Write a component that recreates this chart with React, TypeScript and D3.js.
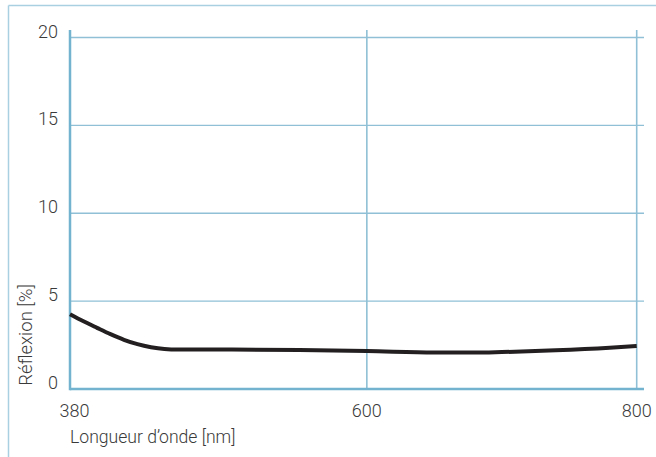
import React from "react";
import * as d3 from "d3";

const wavelengths = [380, 390, 400, 410, 420, 430, 440, 450, 460, 500, 550, 600, 650, 680, 700, 740, 780, 800];
const reflexion = [4.25, 3.85, 3.48, 3.12, 2.8, 2.55, 2.38, 2.28, 2.25, 2.25, 2.22, 2.16, 2.08, 2.07, 2.1, 2.2, 2.35, 2.45];
const xTicks = [380, 600, 800];
const yTicks = [0, 5, 10, 15, 20];

const W = 656;
const H = 457;
const FONT = "Roboto, 'Liberation Sans', sans-serif";

export default function App() {
  const x = d3.scaleLinear().domain([380, 800]).range([70, 636.7]);
  const y = d3.scaleLinear().domain([0, 20]).range([389, 37.5]);
  const pts = wavelengths.map((w, i) => [w, reflexion[i]] as [number, number]);
  const line = d3
    .line<[number, number]>()
    .x((d) => x(d[0]))
    .y((d) => y(d[1]))
    .curve(d3.curveMonotoneX);
  const grid = "#8fc0d5";
  const axis = "#74b3cf";
  const txt = "#3a3a3a";
  return (
    <svg
      width={W}
      height={H}
      style={{ position: "absolute", left: 0, top: 0, background: "#fff" }}
    >
      {/* frame */}
      <line x1={8.5} x2={8.5} y1={5.5} y2={H} stroke="#a9d0e1" strokeWidth={1.5} />
      <line x1={8.5} x2={W} y1={5.5} y2={5.5} stroke="#a9d0e1" strokeWidth={1.5} />
      {/* horizontal grid */}
      {yTicks.filter((t) => t > 0).map((t) => (
        <line key={"h" + t} x1={70} x2={644} y1={y(t)} y2={y(t)} stroke={grid} strokeWidth={1.3} />
      ))}
      {/* vertical grid */}
      {xTicks.filter((t) => t > 380).map((t) => (
        <line key={"v" + t} x1={x(t)} x2={x(t)} y1={30} y2={y(0)} stroke={grid} strokeWidth={1.6} />
      ))}
      {/* axes */}
      <line x1={70} x2={644} y1={y(0)} y2={y(0)} stroke={axis} strokeWidth={2.5} />
      <line x1={70} x2={70} y1={30} y2={y(0) + 1.2} stroke={axis} strokeWidth={2.5} />
      {/* curve */}
      <path d={line(pts) || ""} fill="none" stroke="#231f20" strokeWidth={4} strokeLinecap="butt" />
      {/* y labels */}
      {yTicks.map((t) => (
        <text key={"yl" + t} x={58} y={y(t)} textAnchor="end" fontFamily={FONT} fontSize={18} fontWeight={300} fill={txt}>
          {t}
        </text>
      ))}
      {/* x labels */}
      {xTicks.map((t) => (
        <text
          key={"xl" + t}
          x={x(t) + (t === 380 ? 4.5 : 0)}
          y={417}
          textAnchor="middle"
          fontFamily={FONT}
          fontSize={18}
          fontWeight={300}
          fill={txt}
        >
          {t}
        </text>
      ))}
      <text x={70} y={443} fontFamily={FONT} fontSize={17.6} fontWeight={300} fill={txt}>
        Longueur d’onde [nm]
      </text>
      <text
        transform={`translate(32,335) rotate(-90)`}
        textAnchor="middle"
        fontFamily={FONT}
        fontSize={18.5}
        fontWeight={300}
        fill={txt}
      >
        Réflexion [%]
      </text>
    </svg>
  );
}
